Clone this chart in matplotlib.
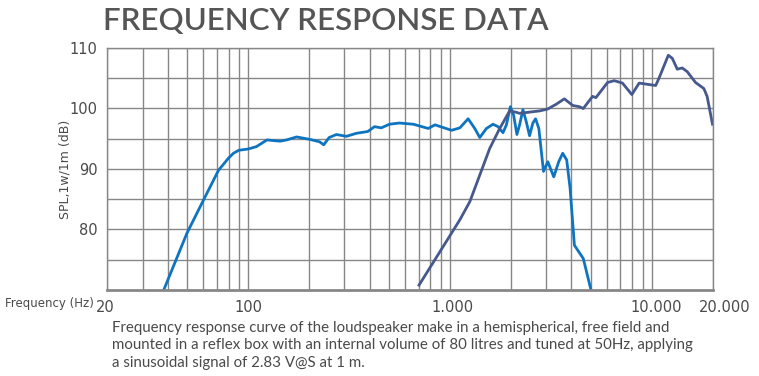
import matplotlib
matplotlib.use("Agg")
import matplotlib.pyplot as plt
from matplotlib import font_manager as fm
from matplotlib.ticker import FixedLocator, NullFormatter
from matplotlib.transforms import ScaledTranslation

# ---------------- data ----------------
woofer_freq = [38.2, 49.8, 60.2, 71.4, 80, 84.6, 90, 100, 110, 124, 144, 155, 174,
               202, 226, 237, 252, 274, 307, 344, 392, 423, 457, 502, 562, 659,
               781, 843, 1019, 1120, 1231, 1328, 1406, 1517, 1635, 1731, 1832,
               1905, 1993, 2069, 2148, 2215, 2300, 2390, 2481, 2576, 2657, 2758,
               2909, 3055, 3270, 3460, 3622, 3790, 3940, 4138, 4580, 5000]
woofer_db = [70.0, 79.4, 84.9, 89.8, 91.8, 92.6, 93.1, 93.3, 93.7, 94.8, 94.6, 94.8, 95.3,
             94.9, 94.5, 94.0, 95.2, 95.7, 95.4, 95.9, 96.2, 97.0, 96.8, 97.4, 97.6, 97.4,
             96.7, 97.3, 96.4, 96.8, 98.3, 96.7, 95.2, 96.7, 97.4, 97.0, 96.0,
             97.3, 100.3, 98.9, 95.7, 97.3, 99.8, 97.8, 95.5, 97.6, 98.3, 96.7,
             89.6, 91.2, 88.7, 91.2, 92.6, 91.5, 86.8, 77.4, 75.2, 70.0]

tweeter_freq = [703, 1120, 1255, 1406, 1575, 1765, 1977, 2116, 2215, 2780, 3044,
                3360, 3690, 4060, 4380, 4580, 5090, 5290, 6040, 6520, 7160, 7970,
                8660, 10460, 10860, 12080, 12640, 13380, 14160, 14980, 16480,
                18120, 18810, 20000]
tweeter_db = [70.8, 81.6, 84.6, 89.0, 93.4, 96.7, 99.6, 99.4, 99.2, 99.6, 99.9,
              100.7, 101.6, 100.5, 100.3, 100.0, 102.0, 101.8, 104.3, 104.6, 104.2, 102.3,
              104.2, 103.8, 105.0, 108.8, 108.3, 106.5, 106.7, 106.1, 104.3,
              103.3, 102.0, 97.4]

x_tick_values = [20, 100, 1000, 10000, 20000]
x_tick_labels = ["20", "100", "1.000", "10.000", "20.000"]
x_grid_values = [30, 40, 50, 60, 70, 80, 90, 200, 300, 400, 500, 600, 700, 800, 900,
                 2000, 3000, 4000, 5000, 6000, 7000, 8000, 9000, 10000]
y_tick_values = [80, 90, 100, 110]
y_grid_values = [75, 85, 95, 105]

title = "FREQUENCY RESPONSE DATA"
ylabel = "SPL,1w/1m (dB)"
xlabel = "Frequency (Hz)"
caption = ("Frequency response curve of the loudspeaker make in a hemispherical, free field and\n"
           "mounted in a reflex box with an internal volume of 80 litres and tuned at 50Hz, applying\n"
           "a sinusoidal signal of 2.83 V@S at 1 m.")

narrow = fm.FontProperties(family="DejaVu Sans")
tick_fs = 10.5
lab_fs = 9

W, H = 759, 376
fig = plt.figure(figsize=(W / 100, H / 100), dpi=100)
L, R, T, B = 107, 712.5, 48, 290
ax = fig.add_axes([L / W, 1 - B / H, (R - L) / W, (B - T) / H])

grid_c = "#878787"
text_c = "#4a4a4a"

ax.set_xscale("log")
ax.set_xlim(20, 20000)
ax.set_ylim(70, 110)

ax.xaxis.set_major_locator(FixedLocator(x_tick_values))
ax.xaxis.set_minor_locator(FixedLocator(x_grid_values))
ax.xaxis.set_minor_formatter(NullFormatter())
ax.set_xticklabels(x_tick_labels)
ax.yaxis.set_major_locator(FixedLocator(y_tick_values))
ax.yaxis.set_minor_locator(FixedLocator(y_grid_values))
ax.grid(which="both", color=grid_c, linewidth=1.0)
ax.set_axisbelow(True)
ax.tick_params(which="both", length=0, colors=text_c)
ax.tick_params(axis="x", pad=7)
ax.tick_params(axis="y", pad=7)
for lab in ax.get_xticklabels() + ax.get_yticklabels():
    lab.set_fontproperties(narrow)
    lab.set_fontsize(tick_fs)
# small horizontal nudges of x labels as in the reference
xl_shift = [-2, 0, 3, 4, 12]
for lab, dx in zip(ax.get_xticklabels(), xl_shift):
    lab.set_transform(lab.get_transform() + ScaledTranslation(dx / 100, 0, fig.dpi_scale_trans))
for s in ax.spines.values():
    s.set_color(grid_c)
    s.set_linewidth(1.0)
ax.spines["bottom"].set_linewidth(2.0)

ax.plot(woofer_freq, woofer_db, color="#0f74c0", linewidth=2.0, solid_joinstyle="round")
ax.plot(tweeter_freq, tweeter_db, color="#46598c", linewidth=2.0, solid_joinstyle="round")

fig.text(L / W - 0.005, 1 - 21 / H, title, fontsize=22.5, color="#555555",
         family="Lato", weight="semibold", va="center", ha="left")
yl = fig.text(65 / W, 1 - 169 / H, ylabel, rotation=90, color=text_c,
              ha="center", va="center")
yl.set_fontproperties(narrow)
yl.set_fontsize(lab_fs)
xl = fig.text(94 / W, 1 - 303 / H, xlabel, color=text_c, ha="right", va="center")
xl.set_fontproperties(narrow)
xl.set_fontsize(8.5)
fig.text(112 / W, 1 - 321 / H, caption, fontsize=10.8, color=text_c, family="Lato",
         ha="left", va="top", linespacing=1.3)

fig.savefig("out.png", dpi=100)
